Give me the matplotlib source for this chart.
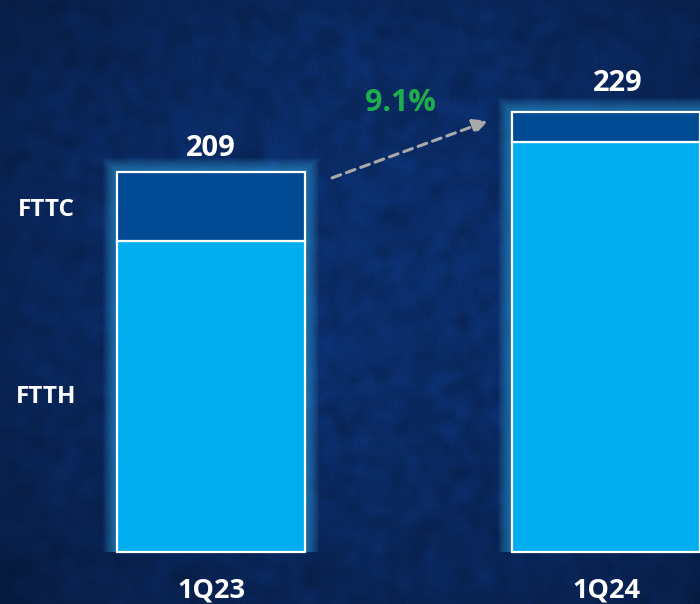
import numpy as np
import matplotlib
matplotlib.use("Agg")
import matplotlib.pyplot as plt
from matplotlib.patches import Rectangle

# Access lines by technology (thousands)
quarters = ['1Q23', '1Q24']
ftth = [186, 219]
fttc = [23, 10]
growth_label = '9.1%'

totals = [a + b for a, b in zip(ftth, fttc)]

plt.rcParams['font.family'] = ['Open Sans', 'DejaVu Sans']
plt.rcParams['font.weight'] = 'bold'

W, H = 700, 604
fig = plt.figure(figsize=(W / 100, H / 100), dpi=100)

# textured navy background
bg_ax = fig.add_axes([0, 0, 1, 1])
bg_ax.set_axis_off()
rng = np.random.default_rng(7)


def smooth(a, n, passes=2):
    k = np.ones(n) / n
    for _ in range(passes):
        a = np.apply_along_axis(lambda r: np.convolve(r, k, mode='same'), 1, a)
        a = np.apply_along_axis(lambda c: np.convolve(c, k, mode='same'), 0, a)
    return a / a.std()


coarse = smooth(rng.normal(0, 1, (H // 3 + 1, W // 3 + 1)), 4)
coarse = np.kron(coarse, np.ones((3, 3)))[:H, :W]
fine = rng.normal(0, 1, (H, W))
yy, xx = np.mgrid[0:H, 0:W]
vign = 1 - 0.30 * (((xx - W * 0.55) / W) ** 2 + ((yy - H * 0.45) / H) ** 2) * 2.2
base = np.array([0x0b, 0x2d, 0x6a]) / 255.0
shade = vign * (1 + 0.045 * coarse + 0.035 * fine)
img = np.clip(base[None, None, :] * shade[:, :, None], 0, 1)
bg_ax.imshow(img, extent=[0, 1, 0, 1], aspect='auto', origin='upper',
             interpolation='bilinear')
bg_ax.set_xlim(0, 1)
bg_ax.set_ylim(0, 1)

ax = fig.add_axes([0, 0, 1, 1])
ax.patch.set_alpha(0)
ax.set_axis_off()

px_x = 1 / 395.0   # data units per pixel, x
px_y = 1 / 3.0     # data units per pixel, y
axis_floor = 82.3
ax.set_xlim(-211 * px_x, (W - 211) * px_x)
ax.set_ylim(axis_floor - 52 * px_y, axis_floor + 552 * px_y)

x = np.arange(len(quarters))
width = 188 * px_x

# soft glow behind the bars
for i in range(len(quarters)):
    for pad in range(1, 15):
        ax.add_patch(Rectangle((x[i] - width / 2 - pad * px_x, axis_floor),
                               width + 2 * pad * px_x,
                               totals[i] - axis_floor + pad * px_y,
                               facecolor='#3cb6f2', edgecolor='none',
                               alpha=0.05, zorder=1))

ftth_h = [v - axis_floor for v in ftth]
ax.bar(x, ftth_h, width, bottom=axis_floor, color='#00adee',
       edgecolor='white', linewidth=1.6, zorder=3)
ax.bar(x, fttc, width, bottom=ftth, color='#004b93',
       edgecolor='white', linewidth=1.6, zorder=3)

label_dx = [0, 12 * px_x]
label_dy = [9 * px_y, 14 * px_y]
for i, t in enumerate(totals):
    ax.text(x[i] + label_dx[i], t + label_dy[i], str(t), ha='center', va='bottom',
            color='white', fontsize=21, fontweight='bold', zorder=5)
    ax.text(x[i], axis_floor - 38 * px_y, quarters[i], ha='center',
            va='center', color='white', fontsize=19.5, fontweight='bold', zorder=5)

# series names on the left
ax.text(-165 * px_x, ftth[0] + fttc[0] / 2 - 1.2, 'FTTC', ha='center',
        va='center', color='white', fontsize=17.5, fontweight='bold', zorder=5)
ax.text(-165 * px_x, axis_floor + (ftth[0] - axis_floor) / 2 - 0.2, 'FTTH',
        ha='center', va='center', color='white', fontsize=17.5,
        fontweight='bold', zorder=5)

# growth arrow
ax.annotate('', xy=(x[1] - width / 2 - 24 * px_x, totals[1] - 3),
            xytext=(x[0] + width / 2 + 27 * px_x, totals[0] - 2),
            arrowprops=dict(arrowstyle='-|>,head_length=0.9,head_width=0.45',
                            color='#a9a9a9', lw=2.2, linestyle=(0, (3, 2)),
                            shrinkA=0, shrinkB=0), zorder=4)
ax.text(x[0] + width / 2 + 95 * px_x, totals[0] + 23, growth_label,
        ha='center', va='center', color='#1fae4c', fontsize=22,
        fontweight='bold', zorder=5)

fig.savefig('out.png', dpi=100)
